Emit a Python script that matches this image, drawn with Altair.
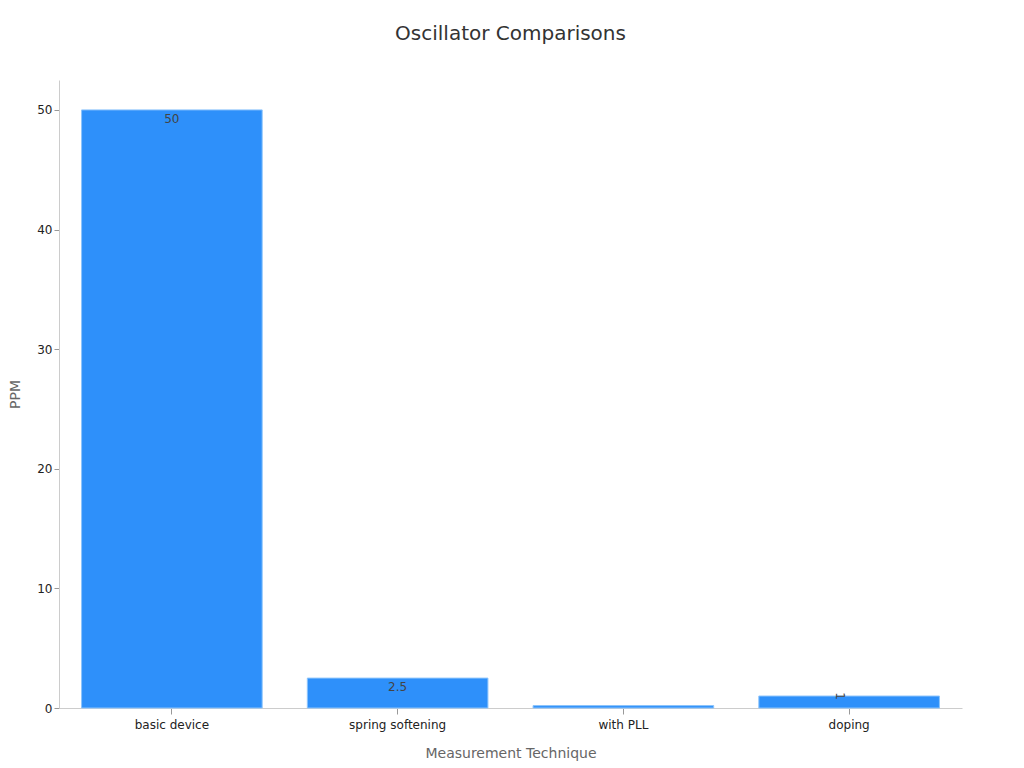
import altair as alt
import pandas as pd

categories = ["basic device", "spring softening", "with PLL", "doping"]
values = [50, 2.5, 0.2, 1]
labels = ["50", "2.5", "", "1"]

df = pd.DataFrame({"technique": categories, "ppm": values, "label": labels})

base = alt.Chart(df).encode(
    x=alt.X("technique:N", sort=categories, title="Measurement Technique",
            scale=alt.Scale(paddingInner=0.2, paddingOuter=0.1),
            axis=alt.Axis(labelAngle=0, labelFontSize=12, titleFontSize=14,
                          titleColor="#666", labelColor="#222", titlePadding=16,
                          labelPadding=5, tickSize=6,
                          domainColor="#ccc", tickColor="#999", titleFontWeight="normal")),
    y=alt.Y("ppm:Q", title="PPM",
            scale=alt.Scale(domain=[0, 52.5], nice=False),
            axis=alt.Axis(values=[0, 10, 20, 30, 40, 50], grid=False, labelFontSize=12,
                          titleFontSize=14, titleColor="#666", labelColor="#222",
                          domainColor="#ccc", tickColor="#999", titlePadding=14,
                          titleFontWeight="normal")),
)

bars = base.mark_bar(color="#2E90FA", stroke="#8CC4FC", strokeWidth=1)

text = base.mark_text(baseline="top", dy=4, fontSize=12, color="#444").encode(
    text="label:N",
    angle=alt.condition(alt.datum.technique == "doping", alt.value(90), alt.value(0)),
)

chart = (bars + text).properties(
    width=903, height=628,
    padding={"left": 0, "top": 16, "right": 5, "bottom": 5},
    title=alt.TitleParams("Oscillator Comparisons", fontSize=20, fontWeight="normal",
                          color="#333", offset=36),
).configure(font="DejaVu Sans").configure_view(strokeWidth=0, stroke="transparent")

chart.save("out.html", embed_options={"renderer": "svg", "actions": False})
